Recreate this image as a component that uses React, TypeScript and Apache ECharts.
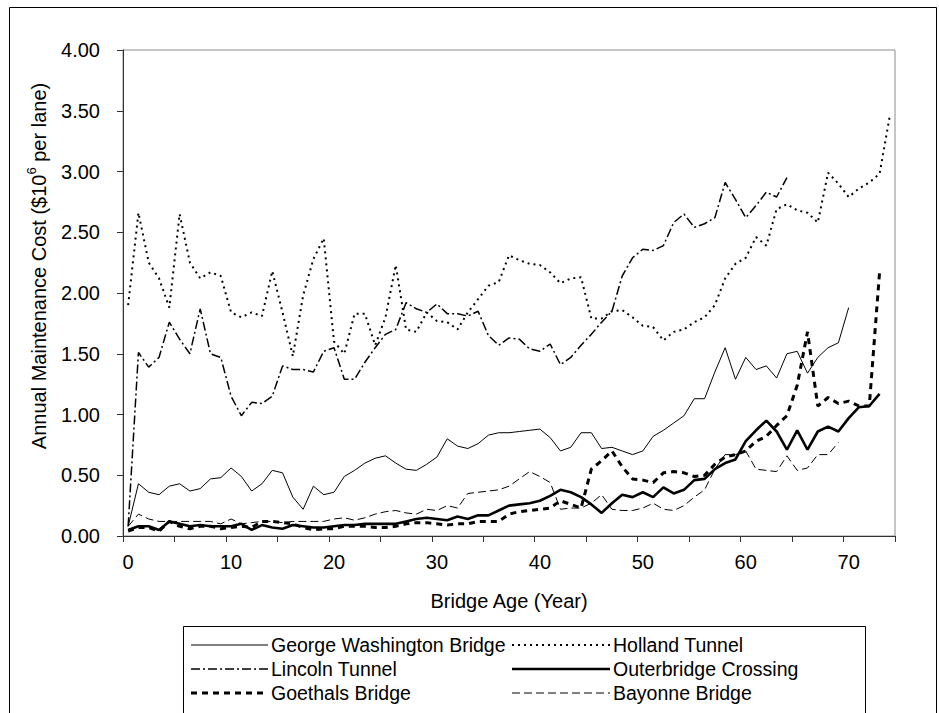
import React, { useEffect, useRef } from "react";
import * as echarts from "echarts";

const ages: string[] = Array.from({ length: 75 }, (_, i) => String(i));
const yTicks = [0, 0.5, 1, 1.5, 2, 2.5, 3, 3.5, 4];

const gwb: (number | null)[] = [
  0.08, 0.43, 0.36, 0.34, 0.41, 0.43, 0.37, 0.39, 0.47, 0.48,
  0.56, 0.49, 0.37, 0.43, 0.54, 0.52, 0.32, 0.22, 0.41, 0.34,
  0.36, 0.49, 0.54, 0.60, 0.64, 0.66, 0.60, 0.55, 0.54, 0.59,
  0.65, 0.80, 0.74, 0.72, 0.76, 0.83, 0.85, 0.85, 0.86, 0.87,
  0.88, 0.81, 0.70, 0.73, 0.85, 0.85, 0.72, 0.73, 0.70, 0.67,
  0.70, 0.82, 0.87, 0.93, 0.99, 1.13, 1.13, 1.35, 1.55, 1.29,
  1.47, 1.37, 1.40, 1.30, 1.50, 1.52, 1.34, 1.47, 1.55, 1.59,
  1.88,
];

const holland: (number | null)[] = [
  1.90, 2.66, 2.25, 2.12, 1.88, 2.65, 2.25, 2.12, 2.17, 2.14,
  1.84, 1.80, 1.84, 1.81, 2.18, 1.84, 1.48, 1.98, 2.28, 2.45,
  1.60, 1.50, 1.83, 1.83, 1.57, 1.80, 2.23, 1.70, 1.68, 1.84,
  1.77, 1.76, 1.70, 1.84, 1.95, 2.06, 2.09, 2.31, 2.27, 2.24,
  2.23, 2.17, 2.08, 2.12, 2.13, 1.79, 1.79, 1.85, 1.86, 1.80,
  1.73, 1.72, 1.61, 1.68, 1.70, 1.76, 1.80, 1.90, 2.12, 2.24,
  2.29, 2.46, 2.39, 2.69, 2.73, 2.68, 2.66, 2.58, 2.99, 2.90,
  2.79, 2.86, 2.91, 2.98, 3.46,
];

const lincoln: (number | null)[] = [
  0.08, 1.51, 1.39, 1.47, 1.76, 1.62, 1.50, 1.87, 1.50, 1.47,
  1.15, 0.99, 1.10, 1.09, 1.15, 1.40, 1.37, 1.37, 1.35, 1.52,
  1.55, 1.29, 1.29, 1.43, 1.55, 1.66, 1.70, 1.92, 1.87, 1.84,
  1.91, 1.83, 1.83, 1.81, 1.85, 1.65, 1.57, 1.63, 1.62, 1.54,
  1.52, 1.58, 1.41, 1.47, 1.57, 1.66, 1.76, 1.85, 2.14, 2.29,
  2.36, 2.35, 2.39, 2.58, 2.65, 2.54, 2.57, 2.62, 2.91, 2.77,
  2.62, 2.72, 2.83, 2.79, 2.95,
];

const outerbridge: (number | null)[] = [
  0.05, 0.08, 0.08, 0.05, 0.12, 0.10, 0.08, 0.09, 0.08, 0.08,
  0.08, 0.10, 0.05, 0.09, 0.07, 0.06, 0.09, 0.08, 0.07, 0.07,
  0.08, 0.09, 0.09, 0.10, 0.10, 0.10, 0.10, 0.12, 0.14, 0.15,
  0.14, 0.13, 0.16, 0.14, 0.17, 0.17, 0.21, 0.25, 0.26, 0.27,
  0.29, 0.33, 0.38, 0.36, 0.32, 0.26, 0.19, 0.27, 0.34, 0.32,
  0.36, 0.32, 0.40, 0.35, 0.38, 0.46, 0.47, 0.55, 0.60, 0.63,
  0.78, 0.87, 0.95, 0.86, 0.71, 0.87, 0.71, 0.86, 0.90, 0.86,
  0.97, 1.06, 1.07, 1.17,
];

const goethals: (number | null)[] = [
  0.04, 0.07, 0.07, 0.04, 0.12, 0.08, 0.06, 0.08, 0.08, 0.06,
  0.07, 0.08, 0.07, 0.12, 0.12, 0.11, 0.10, 0.07, 0.05, 0.06,
  0.06, 0.08, 0.08, 0.08, 0.07, 0.07, 0.08, 0.10, 0.11, 0.11,
  0.10, 0.09, 0.10, 0.10, 0.12, 0.12, 0.12, 0.18, 0.20, 0.21,
  0.22, 0.23, 0.29, 0.26, 0.23, 0.55, 0.62, 0.70, 0.57, 0.47,
  0.46, 0.44, 0.52, 0.53, 0.52, 0.49, 0.50, 0.59, 0.65, 0.67,
  0.70, 0.78, 0.82, 0.91, 0.99, 1.24, 1.68, 1.07, 1.14, 1.09,
  1.11, 1.07, 1.07, 2.17,
];

const bayonne: (number | null)[] = [
  0.08, 0.18, 0.14, 0.12, 0.12, 0.12, 0.12, 0.12, 0.12, 0.10,
  0.14, 0.10, 0.11, 0.12, 0.12, 0.11, 0.12, 0.12, 0.12, 0.12,
  0.14, 0.15, 0.13, 0.15, 0.18, 0.20, 0.21, 0.19, 0.18, 0.22,
  0.21, 0.25, 0.23, 0.35, 0.36, 0.37, 0.38, 0.41, 0.47, 0.53,
  0.49, 0.44, 0.22, 0.23, 0.23, 0.27, 0.34, 0.22, 0.21, 0.21,
  0.23, 0.27, 0.22, 0.21, 0.25, 0.32, 0.38, 0.55, 0.67, 0.67,
  0.70, 0.55, 0.54, 0.53, 0.66, 0.54, 0.56, 0.67, 0.67, 0.77,
];

const seriesNames = [
  "George Washington Bridge",
  "Holland Tunnel",
  "Lincoln Tunnel",
  "Outerbridge Crossing",
  "Goethals Bridge",
  "Bayonne Bridge",
];

const FONT = "'Liberation Sans', Arial, Helvetica, sans-serif";

type LS = { width: number; type: any };
const styles: LS[] = [
  { width: 1, type: "solid" },
  { width: 2, type: [2, 4] },
  { width: 1.5, type: [9, 3, 2, 3] },
  { width: 2.6, type: "solid" },
  { width: 3, type: [6, 5] },
  { width: 1, type: [8, 4] },
];

export default function App() {
  const ref = useRef<HTMLDivElement>(null);
  useEffect(() => {
    if (!ref.current) return;
    const chart = echarts.init(ref.current, undefined, { renderer: "svg" });
    const data = [gwb, holland, lincoln, outerbridge, goethals, bayonne];

    const legendRows = [645, 669, 693];
    const colLine = [
      [191, 268],
      [512, 610],
    ];
    const order = [
      [0, 1],
      [2, 3],
      [4, 5],
    ];
    const legendGraphics: any[] = [
      {
        type: "rect",
        shape: { x: 183.5, y: 626.5, width: 682, height: 110 },
        style: { fill: "#fff", stroke: "#000", lineWidth: 1 },
        z: 10,
      },
    ];
    order.forEach((row, r) => {
      row.forEach((si, c) => {
        const y = legendRows[r];
        legendGraphics.push({
          type: "line",
          shape: { x1: colLine[c][0], y1: y, x2: colLine[c][1], y2: y },
          style: {
            stroke: "#000",
            lineWidth: styles[si].width,
            lineDash: styles[si].type === "solid" ? null : styles[si].type,
          },
          z: 11,
        });
        legendGraphics.push({
          type: "text",
          x: colLine[c][1] + 3,
          y: y,
          style: {
            text: seriesNames[si],
            fill: "#000",
            font: `19.5px ${FONT}`,
            verticalAlign: "middle",
            align: "left",
          },
          z: 11,
        });
      });
    });

    chart.setOption({
      animation: false,
      backgroundColor: "#fff",
      textStyle: { fontFamily: FONT },
      grid: {
        left: 123,
        top: 50,
        width: 772,
        height: 486,
        show: true,
        borderColor: "#8c8c8c",
        borderWidth: 1,
        containLabel: false,
      },
      xAxis: {
        type: "category",
        data: ages,
        boundaryGap: true,
        name: "Bridge Age (Year)",
        nameLocation: "middle",
        nameGap: 55,
        nameTextStyle: { fontSize: 20, color: "#000", fontFamily: FONT },
        axisLine: { lineStyle: { color: "#333", width: 1 } },
        axisTick: { show: true, interval: 4, length: 6, lineStyle: { color: "#333" } },
        axisLabel: { interval: 9, margin: 16, fontSize: 20, color: "#000", fontFamily: FONT },
        splitLine: { show: false },
      },
      yAxis: {
        type: "value",
        min: 0,
        max: 4,
        interval: 0.5,
        axisLine: { show: true, lineStyle: { color: "#333", width: 1 } },
        axisTick: { show: true, length: 6, lineStyle: { color: "#333" } },
        axisLabel: {
          margin: 23,
          fontSize: 20,
          color: "#000",
          fontFamily: FONT,
          formatter: (v: number) => (yTicks.includes(v) ? v.toFixed(2) : ""),
        },
        splitLine: { show: false },
      },
      series: data.map((d, i) => ({
        name: seriesNames[i],
        type: "line",
        data: d,
        symbol: "none",
        showSymbol: false,
        connectNulls: false,
        z: 3 + i,
        lineStyle: { color: "#000", width: styles[i].width, type: styles[i].type },
      })),
      graphic: [
        {
          type: "rect",
          shape: { x: 9.5, y: 7.5, width: 927, height: 720 },
          style: { fill: "none", stroke: "#000", lineWidth: 1 },
          silent: true,
          z: 0,
        },
        {
          type: "text",
          x: 37,
          y: 266,
          rotation: Math.PI / 2,
          style: {
            text: "{a|Annual Maintenance Cost ($10}{s|6}{a| per lane)}",
            align: "center",
            verticalAlign: "middle",
            fill: "#000",
            rich: {
              a: { fontSize: 20, fontFamily: FONT, fill: "#000", lineHeight: 24, verticalAlign: "bottom" },
              s: { fontSize: 13, fontFamily: FONT, fill: "#000", lineHeight: 24, verticalAlign: "top" },
            },
          },
        },
        ...legendGraphics,
      ],
    });
    return () => chart.dispose();
  }, []);
  return (
    <div
      ref={ref}
      style={{ position: "fixed", left: 0, top: 0, width: 939, height: 713, background: "#fff" }}
    />
  );
}
